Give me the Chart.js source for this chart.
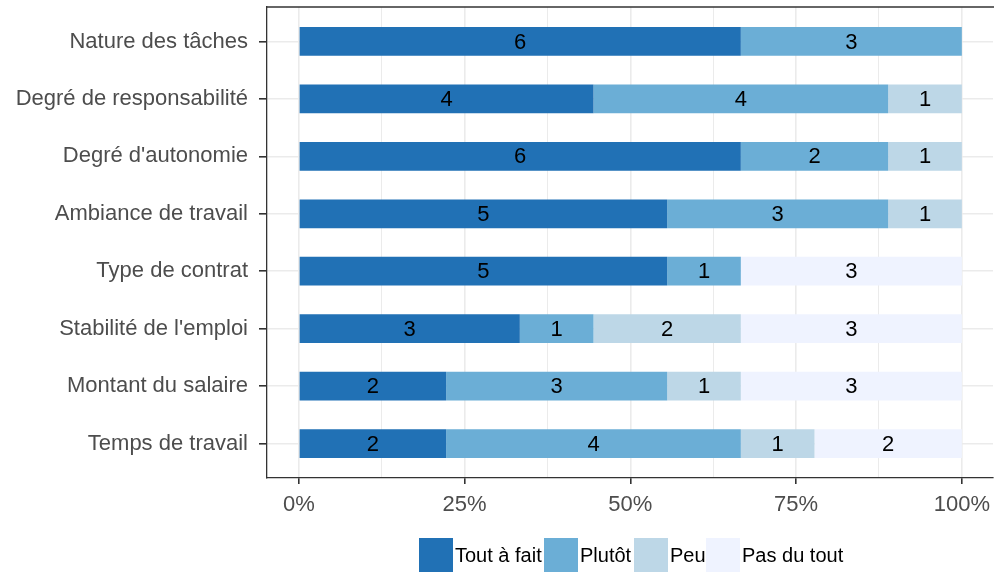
<!DOCTYPE html>
<html>
<head>
<meta charset="utf-8">
<script src="https://cdn.jsdelivr.net/npm/chart.js@4.4.1/dist/chart.umd.min.js"></script>
<style>
html,body{margin:0;padding:0;background:#fff;overflow:hidden;}
#wrap{position:relative;width:994px;height:572px;}
#legend{position:absolute;left:0;top:0;width:994px;height:572px;pointer-events:none;font-family:"Liberation Sans",Arial,sans-serif;font-size:20px;color:#000;}
.sw{position:absolute;top:538px;width:34px;height:34px;}
.lb{position:absolute;top:538px;height:34px;line-height:34px;white-space:nowrap;}
</style>
</head>
<body>
<div id="wrap">
<canvas id="c" width="994" height="572"></canvas>
<div id="legend"></div>
</div>
<script>
const categories = ['Nature des tâches','Degré de responsabilité',"Degré d'autonomie",'Ambiance de travail','Type de contrat',"Stabilité de l'emploi",'Montant du salaire','Temps de travail'];
const seriesNames = ['Tout à fait','Plutôt','Peu','Pas du tout'];
const toutAFait = [6,4,6,5,5,3,2,2];
const plutot    = [3,4,2,3,1,1,3,4];
const peu       = [0,1,1,1,0,2,1,1];
const pasDuTout = [0,0,0,0,3,3,3,2];
const seriesColors = ['#2171b5','#6baed6','#bdd7e7','#eff3ff'];
const xTickValues = [0,12.5,25,37.5,50,62.5,75,87.5,100];
const xTickLabels = {0:'0%',25:'25%',50:'50%',75:'75%',100:'100%'};

const counts = [toutAFait, plutot, peu, pasDuTout];
const totals = categories.map((_, i) => counts.reduce((s, arr) => s + arr[i], 0));

Chart.defaults.font.family = '"Liberation Sans", Arial, sans-serif';

const datasets = counts.map((arr, k) => ({
  label: seriesNames[k],
  data: arr.map((v, i) => v / totals[i] * 100),
  counts: arr,
  backgroundColor: seriesColors[k],
  borderWidth: 0,
  barPercentage: 0.5,
  categoryPercentage: 1
}));

const barLabels = {
  id: 'barLabels',
  afterDatasetsDraw(chart) {
    const ctx = chart.ctx;
    ctx.save();
    ctx.font = '22px "Liberation Sans", Arial, sans-serif';
    ctx.fillStyle = '#000';
    ctx.textAlign = 'center';
    ctx.textBaseline = 'middle';
    chart.data.datasets.forEach((ds, di) => {
      const meta = chart.getDatasetMeta(di);
      meta.data.forEach((el, i) => {
        const c = ds.counts[i];
        if (!c) return;
        ctx.fillText(String(c), (el.x + el.base) / 2, el.y + 1);
      });
    });
    ctx.restore();
  }
};

const topBorder = {
  id: 'topBorder',
  afterDraw(chart) {
    const a = chart.chartArea, ctx = chart.ctx;
    ctx.save();
    ctx.strokeStyle = '#333';
    ctx.lineWidth = 1.3;
    ctx.beginPath();
    ctx.moveTo(a.left, a.top);
    ctx.lineTo(a.right + 2, a.top);
    ctx.stroke();
    ctx.restore();
  }
};

new Chart(document.getElementById('c'), {
  type: 'bar',
  data: { labels: categories, datasets },
  plugins: [barLabels, topBorder],
  options: {
    indexAxis: 'y',
    responsive: false,
    animation: false,
    devicePixelRatio: 1,
    layout: { autoPadding: false, padding: { top: 7, right: 1, bottom: 0, left: 0 } },
    plugins: { legend: { display: false }, tooltip: { enabled: false } },
    scales: {
      x: {
        type: 'linear',
        stacked: true,
        min: -4.8,
        max: 104.7,
        afterBuildTicks: s => { s.ticks = xTickValues.map(v => ({ value: v })); },
        afterFit: s => { s.height = 94; s.paddingLeft = 0; s.paddingRight = 0; },
        border: { display: true, color: '#333', width: 1.3 },
        grid: {
          color: '#ebebeb',
          lineWidth: c => (c.tick && c.tick.value % 25 === 0) ? 1.6 : 1,
          tickColor: c => (c.tick && c.tick.value % 25 === 0) ? '#333' : 'rgba(0,0,0,0)',
          tickLength: 6,
          drawTicks: true
        },
        ticks: {
          autoSkip: false,
          maxRotation: 0,
          color: '#4d4d4d',
          font: { size: 22 },
          padding: 8,
          callback: v => xTickLabels[v] !== undefined ? xTickLabels[v] : ''
        }
      },
      y: {
        type: 'category',
        stacked: true,
        offset: true,
        afterBuildTicks: s => { s._startValue -= 0.1; s._valueRange += 0.2; },
        afterFit: s => { s.width = 267; s.paddingTop = 0; s.paddingBottom = 0; },
        border: { display: true, color: '#333', width: 1.3 },
        grid: { color: '#ebebeb', lineWidth: 1.6, offset: false, tickColor: '#333', tickLength: 8 },
        ticks: { color: '#4d4d4d', font: { size: 22 }, padding: 11 }
      }
    }
  }
});

const legendEl = document.getElementById('legend');
const swatchX = [419, 544, 634, 706];
seriesNames.forEach((n, k) => {
  const sw = document.createElement('div');
  sw.className = 'sw';
  sw.style.left = swatchX[k] + 'px';
  sw.style.background = seriesColors[k];
  legendEl.appendChild(sw);
  const lb = document.createElement('div');
  lb.className = 'lb';
  lb.style.left = (swatchX[k] + 36) + 'px';
  lb.textContent = n;
  legendEl.appendChild(lb);
});
</script>
</body>
</html>
